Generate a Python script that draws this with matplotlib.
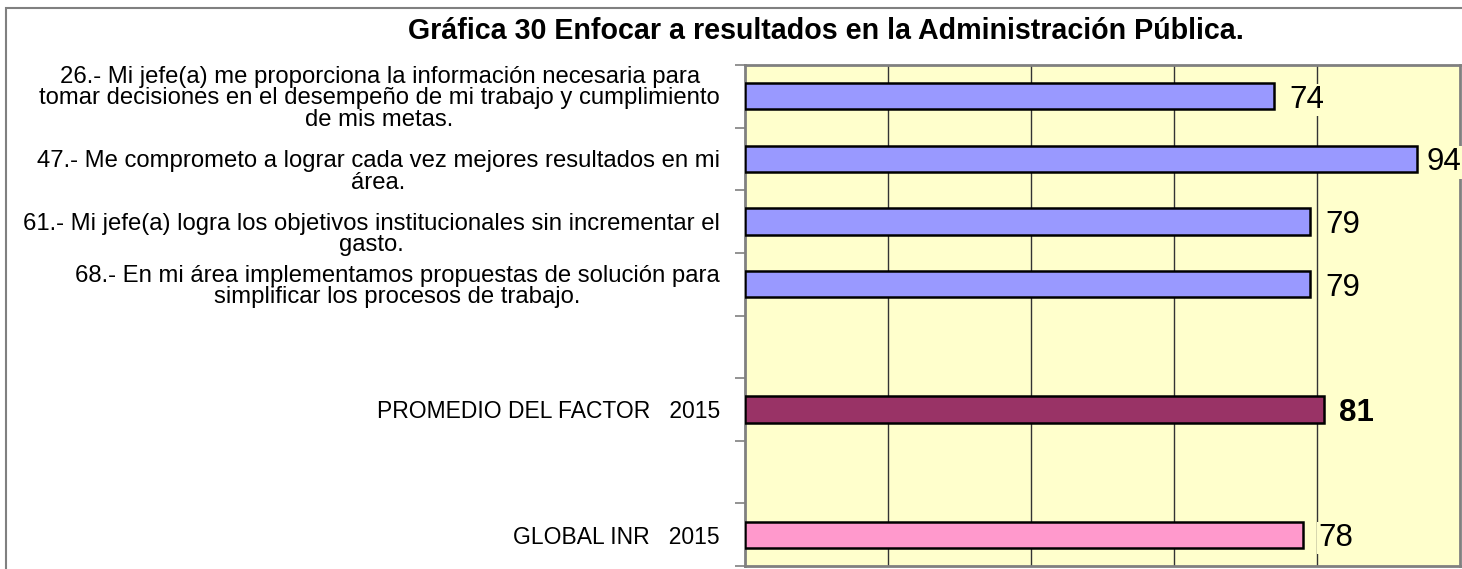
import matplotlib.pyplot as plt
import matplotlib.patches as patches
import matplotlib.transforms as mtransforms
import numpy as np

plt.rcParams['font.family'] = ['Liberation Sans', 'DejaVu Sans']

title = "Gráfica 30 Enfocar a resultados en la Administración Pública."
labels = [
    "26.- Mi jefe(a) me proporciona la información necesaria para\ntomar decisiones en el desempeño de mi trabajo y cumplimiento\nde mis metas.",
    "47.- Me comprometo a lograr cada vez mejores resultados en mi\nárea.",
    "61.- Mi jefe(a) logra los objetivos institucionales sin incrementar el\ngasto.",
    "68.- En mi área implementamos propuestas de solución para\nsimplificar los procesos de trabajo.",
    "",
    "PROMEDIO DEL FACTOR   2015",
    "",
    "GLOBAL INR   2015",
]
values = [74, 94, 79, 79, None, 81, None, 78]
colors = ["#9999FF", "#9999FF", "#9999FF", "#9999FF", None, "#993366", None, "#FF99CC"]
bold = [False, False, False, False, False, True, False, False]

fig = plt.figure(figsize=(14.62, 5.69), dpi=100)
ax = fig.add_axes([745 / 1462, 1 - 566 / 569, 715 / 1462, 501 / 569])

# outer frame
fig.patches.append(patches.Rectangle((6 / 1462, -0.1), 1.2, 1 - 8 / 569 + 0.1,
                                     transform=fig.transFigure, fill=False,
                                     edgecolor="#808080", linewidth=1.5))

ax.set_facecolor("#FFFFCC")
n = len(labels)
ypos = np.arange(n)
for i in range(n):
    if values[i] is None:
        continue
    ax.barh(ypos[i], values[i], height=0.42, color=colors[i], edgecolor="black",
            linewidth=1.8, zorder=3)
    off = 11 if values[i] < 90 else 7
    ax.annotate(str(values[i]), (values[i], ypos[i]), xytext=(off, 0),
                textcoords="offset points", va="center_baseline", ha="left",
                fontsize=22.5, fontweight="bold" if bold[i] else "normal",
                bbox=dict(facecolor="#FFFFCC", edgecolor="none", pad=1),
                zorder=4, annotation_clip=False)

ax.set_xlim(0, 100)
ax.set_ylim(n - 0.5, -0.5)
ax.set_xticks([20, 40, 60, 80])
ax.xaxis.grid(True, color="#333333", linewidth=1, zorder=1)
ax.tick_params(axis="x", length=0, labelbottom=False)

ax.set_yticks(ypos)
ax.set_yticklabels(labels, fontsize=17.2, multialignment="center", linespacing=0.95)
ax.set_yticks(np.arange(n + 1) - 0.5, minor=True)
ax.tick_params(axis="y", which="major", length=0, pad=18)
ax.tick_params(axis="y", which="minor", length=7, width=1.2, color="#808080", direction="out")

ticklabels = ax.get_yticklabels()
# items 47 and 61 sit a little lower than their bars in the original
shift = mtransforms.ScaledTranslation(0, -11 / 100, fig.dpi_scale_trans)
for lab in ticklabels[1:3]:
    lab.set_transform(lab.get_transform() + shift)
for lab in ticklabels[4:]:
    lab.set_fontsize(16.5)

for s in ax.spines.values():
    s.set_color("#808080")
    s.set_linewidth(2)

fig.text(826 / 1462, 1 - 31 / 569, title, ha="center", va="center",
         fontsize=20.6, fontweight="bold")

fig.savefig("out.png", dpi=100)
